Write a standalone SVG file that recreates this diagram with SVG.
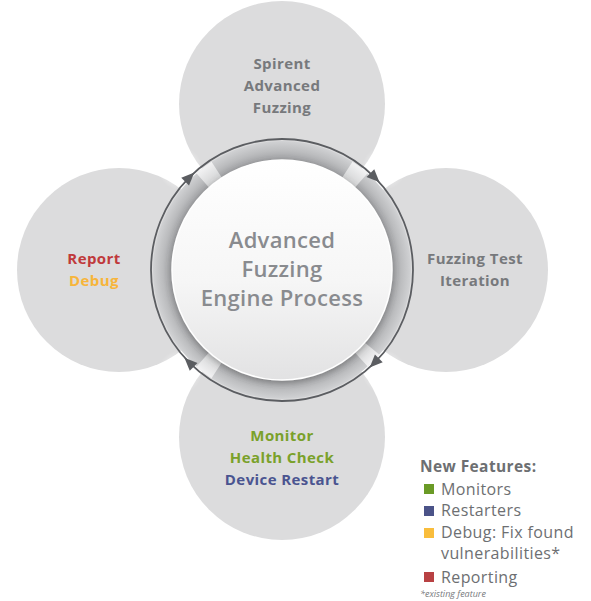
<svg xmlns="http://www.w3.org/2000/svg" width="591" height="601" viewBox="0 0 591 601">
  <style>
    .sat { fill: #dcdcdd; }
    .lbl { font-family: "Open Sans", "Liberation Sans", sans-serif; font-weight: 700; font-size: 15px; letter-spacing: 0.4px; text-anchor: middle; fill: #77797c; }
    .core { font-family: "Open Sans", "Liberation Sans", sans-serif; font-weight: 600; font-size: 22px; letter-spacing: 0.3px; text-anchor: middle; fill: #898b8f; }
    .leg { font-family: "Open Sans", "Liberation Sans", sans-serif; font-size: 16px; letter-spacing: 0.4px; fill: #6d6f72; }
    .legh { font-family: "Open Sans", "Liberation Sans", sans-serif; font-weight: 700; font-size: 15.5px; letter-spacing: 0.4px; fill: #6d6f72; }
    .note { font-family: "Open Sans", "Liberation Sans", sans-serif; font-style: italic; font-size: 9px; fill: #77797c; }
    .flow { fill: none; stroke: #5b5d61; stroke-width: 1.8; }
    .head { fill: #5b5d61; }
    .gap { fill: none; stroke: url(#gapGrad); stroke-width: 19; }
  </style>
  <defs>
    <radialGradient id="bandGrad" gradientUnits="userSpaceOnUse" cx="282" cy="270" r="130">
      <stop offset="0.84" stop-color="#9d9ea1"/>
      <stop offset="0.92" stop-color="#bcbdbf"/>
      <stop offset="1" stop-color="#d3d4d6"/>
    </radialGradient>
    <radialGradient id="gapGrad" gradientUnits="userSpaceOnUse" cx="282" cy="270" r="130">
      <stop offset="0.84" stop-color="#cfd0d1"/>
      <stop offset="1" stop-color="#f4f4f5"/>
    </radialGradient>
    <linearGradient id="coreGrad" x1="0" y1="0" x2="0" y2="1">
      <stop offset="0" stop-color="#ffffff"/>
      <stop offset="0.55" stop-color="#f6f6f6"/>
      <stop offset="1" stop-color="#e2e2e3"/>
    </linearGradient>
    <radialGradient id="glow">
      <stop offset="0" stop-color="#ffffff" stop-opacity="1"/>
      <stop offset="1" stop-color="#ffffff" stop-opacity="0"/>
    </radialGradient>
    <filter id="shadow" x="-20%" y="-20%" width="140%" height="140%">
      <feDropShadow dx="0" dy="2" stdDeviation="3" flood-color="#555" flood-opacity="0.45"/>
    </filter>
    <polygon id="arrowHead" points="7,0 -6,-5.5 -6,5.5"/>
  </defs>

  <!-- outer process stages -->
  <g id="node-spirent">
    <circle class="sat" cx="282" cy="104" r="103"/>
    <text class="lbl" x="282" y="69">Spirent</text>
    <text class="lbl" x="282" y="91">Advanced</text>
    <text class="lbl" x="282" y="113">Fuzzing</text>
  </g>
  <g id="node-iteration">
    <circle class="sat" cx="446" cy="270" r="102"/>
    <text class="lbl" x="475" y="264">Fuzzing Test</text>
    <text class="lbl" x="475" y="286">Iteration</text>
  </g>
  <g id="node-monitor">
    <circle class="sat" cx="282" cy="437" r="103"/>
    <text class="lbl" x="282" y="441" style="fill:#7aa12a">Monitor</text>
    <text class="lbl" x="282" y="463" style="fill:#7aa12a">Health Check</text>
    <text class="lbl" x="282" y="485" style="fill:#4a5490">Device Restart</text>
  </g>
  <g id="node-report">
    <circle class="sat" cx="119" cy="270" r="102"/>
    <text class="lbl" x="94" y="264" style="fill:#c0393b">Report</text>
    <text class="lbl" x="94" y="286" style="fill:#f7b53b">Debug</text>
  </g>

  <!-- soft light between neighbouring stages -->
  <g id="gap-glow">
    <circle cx="180" cy="168" r="22" fill="url(#glow)"/>
    <circle cx="384" cy="168" r="22" fill="url(#glow)"/>
    <circle cx="384" cy="372" r="22" fill="url(#glow)"/>
    <circle cx="180" cy="372" r="22" fill="url(#glow)"/>
  </g>

  <!-- central engine -->
  <g id="node-engine">
    <circle cx="282" cy="270" r="119.5" fill="none" stroke="url(#bandGrad)" stroke-width="19"/>
    <path class="gap" d="M 202.7 180.4 A 119.5 119.5 0 0 1 216.7 169.8"/>
    <path class="gap" d="M 347.3 169.8 A 119.5 119.5 0 0 1 361.3 180.4"/>
    <path class="gap" d="M 371.9 348.5 A 119.5 119.5 0 0 1 361.3 359.6"/>
    <path class="gap" d="M 216.7 370.2 A 119.5 119.5 0 0 1 202.7 359.6"/>
    <circle cx="282" cy="270" r="110" fill="url(#coreGrad)" stroke="#ffffff" stroke-width="1.5" filter="url(#shadow)"/>
    <text class="core" x="282" y="248">Advanced</text>
    <text class="core" x="282" y="277">Fuzzing</text>
    <text class="core" x="282" y="306">Engine Process</text>
  </g>

  <!-- clockwise flow ring -->
  <g id="connectors">
    <circle class="flow" cx="282" cy="270" r="131"/>
    <use class="head" href="#arrowHead" transform="translate(189.4,177.4) rotate(-45)"/>
    <use class="head" href="#arrowHead" transform="translate(374.6,177.4) rotate(45)"/>
    <use class="head" href="#arrowHead" transform="translate(374.6,362.6) rotate(135)"/>
    <use class="head" href="#arrowHead" transform="translate(189.4,362.6) rotate(225)"/>
  </g>

  <!-- legend -->
  <g id="legend">
    <text class="legh" x="420" y="472">New Features:</text>
    <rect x="424" y="484" width="10" height="10" fill="#6a9a26"/>
    <text class="leg" x="441" y="495">Monitors</text>
    <rect x="424" y="506" width="10" height="10" fill="#4b5388"/>
    <text class="leg" x="441" y="516">Restarters</text>
    <rect x="424" y="528" width="10" height="10" fill="#f9bd3c"/>
    <text class="leg" x="441" y="538">Debug: Fix found</text>
    <text class="leg" x="441" y="559">vulnerabilities*</text>
    <rect x="424" y="572" width="10" height="10" fill="#b84143"/>
    <text class="leg" x="441" y="583">Reporting</text>
    <text class="note" x="420" y="597">*existing feature</text>
  </g>
</svg>
